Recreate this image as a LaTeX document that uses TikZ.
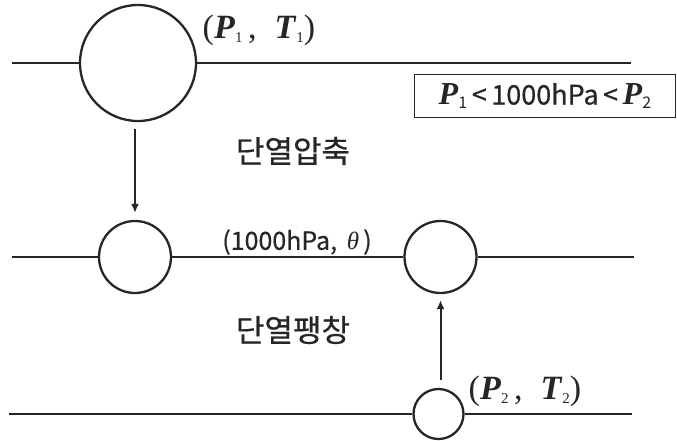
\documentclass[tikz,border=0pt]{standalone}
\usepackage{fontspec}
\setmainfont{Liberation Serif}
\newfontfamily\krfont[FakeBold=0.5]{Noto Sans CJK KR}
\newfontfamily\krlat{Noto Sans CJK KR}
\usetikzlibrary{arrows.meta,calc}
\newcommand\bvar[1]{\textbf{\textit{#1}}}
\newcommand\lowsub[2]{\raisebox{-0.3ex}{\fontsize{#1}{#1}\selectfont #2}}
\begin{document}
\begin{tikzpicture}[x=1pt,y=-1pt,
  parcel/.style={circle, draw=black!85, line width=2.3pt, inner sep=0pt, fill=white},
  level/.style={line width=2.3pt, draw=black!85},
  arr/.style={-{Latex[length=9pt,width=8pt]}, line width=2pt, draw=black!85},
  krlabel/.style={font=\krfont\fontsize{31}{31}\selectfont, text=black!85, inner sep=0pt},
  vlabel/.style={inner sep=0pt, text=black!85}]
\useasboundingbox (0,0) rectangle (677,440);
% parcels
\node[parcel, minimum size=116pt] (big) at (138,63) {};
\node[parcel, minimum size=72pt] (c2) at (135,257) {};
\node[parcel, minimum size=72pt] (c3) at (440.5,257) {};
\node[parcel, minimum size=50pt] (small) at (438.5,414) {};
% level ends
\coordinate (t1) at (12,63);  \coordinate (t2) at (631,63);
\coordinate (m1) at (12,257); \coordinate (m2) at (634,257);
\coordinate (b1) at (9,414);  \coordinate (b2) at (632,414);
\draw[level] (t1) -- (big.west);
\draw[level] (big.east) -- (t2);
\draw[level] (m1) -- (c2.west);
\draw[level] (c2.east) -- (c3.west);
\draw[level] (c3.east) -- (m2);
\draw[level] (b1) -- (small.west);
\draw[level] (small.east) -- (b2);
% arrows
\draw[arr, shorten <=7pt, shorten >=7pt] (big.south -| c2.north) -- (c2.north);
\draw[arr, shorten <=8pt, shorten >=6pt] (small.north -| c3.south) -- (c3.south);
% labels
\node[vlabel, font=\fontsize{34}{34}\selectfont] (l1) at (259,30) {(\bvar{P}\lowsub{15}{1}\,,\; \bvar{T}\lowsub{15}{1})};
\node[vlabel, font=\fontsize{34}{34}\selectfont] (l2) at (525,391) {(\bvar{P}\lowsub{15}{2}\,,\; \bvar{T}\lowsub{15}{2})};
\node[vlabel, font=\krfont\fontsize{25}{25}\selectfont] (l3) at (297,242) {(1000hPa,\, {\rmfamily\itshape θ\,})};
\node[draw=black!85, line width=1.8pt, minimum width=261pt, minimum height=43pt, inner sep=0pt, text=black!85] (box) at (545,96)
  {\fontsize{32}{32}\selectfont\bvar{P}\lowsub{16}{\krlat 1}{\krfont\fontsize{27}{27}\selectfont\,<\,1000hPa\,<\,}\bvar{P}\lowsub{16}{\krlat 2}};
\node[krlabel] (comp) at (293,151) {단열압축};
\node[krlabel] (exp) at (293,330) {단열팽창};
\end{tikzpicture}
\end{document}
